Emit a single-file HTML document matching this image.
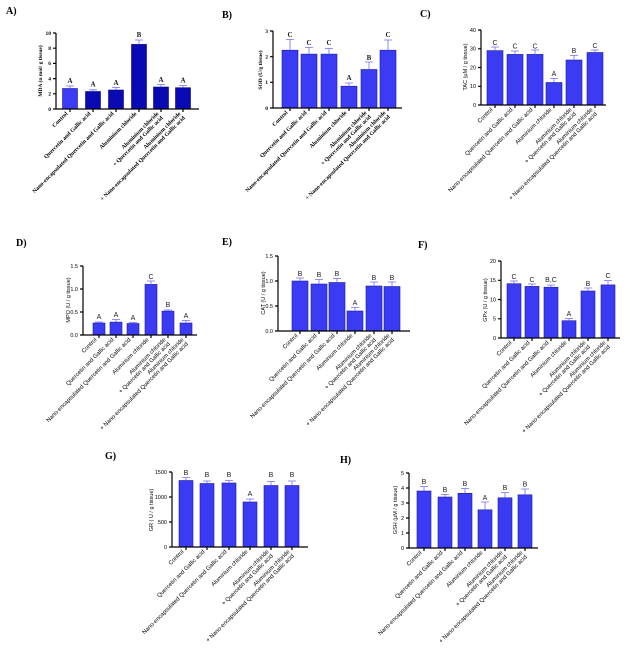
<!DOCTYPE html>
<html><head><meta charset="utf-8"><style>
html,body{margin:0;padding:0;background:#fff}
svg{display:block}
.s text{font-family:"Liberation Serif",serif;font-weight:bold}
.a text{font-family:"Liberation Sans",sans-serif}
.lab{font-size:5.8px}
.tk{font-size:5.5px}
.let{font-size:7px;fill:#222}
.pl{font-family:"Liberation Serif",serif;font-weight:bold;font-size:10px}
.bar{fill:#3b3bf4;stroke:#1c1c9a;stroke-width:0.6}
.dk{fill:#0a0ab4;stroke:#06067a;stroke-width:0.6}
.ax{stroke:#000;stroke-width:1.2;fill:none}
.eb{stroke:#6e6ef5;stroke-width:0.8;fill:none}
</style></head><body>
<svg width="641" height="661" viewBox="0 0 641 661" xmlns="http://www.w3.org/2000/svg">
<text class="pl" x="6" y="14">A)</text>
<text class="pl" x="222" y="18">B)</text>
<text class="pl" x="420" y="17">C)</text>
<text class="pl" x="16" y="246">D)</text>
<text class="pl" x="222" y="245">E)</text>
<text class="pl" x="418" y="248">F)</text>
<text class="pl" x="105" y="459">G)</text>
<text class="pl" x="340" y="463">H)</text>

<!-- A -->
<g class="s">
<rect class="bar" x="62.5" y="88.5" width="15" height="20.5"/>
<rect class="dk" x="85.5" y="91.5" width="15" height="17.5"/>
<rect class="dk" x="108.5" y="90" width="15" height="19"/>
<rect class="dk" x="131.5" y="44.4" width="15" height="64.6"/>
<rect class="dk" x="153.5" y="87" width="15" height="22"/>
<rect class="dk" x="175.5" y="87.7" width="15" height="21.3"/>
<path class="eb" d="M70 88.5V86h-4h8M93 91.5V89.8h-4h8M116 90V87.5h-4h8M139 44.4V40h-4h8M161 87V84.5h-4h8M183 87.7V85.5h-4h8"/>
<path class="ax" d="M56 33V109H199M53 33h3M53 48.2h3M53 63.4h3M53 78.6h3M53 93.8h3M53 109h3M70 109v3M93 109v3M116 109v3M139 109v3M161 109v3M183 109v3"/>
<g class="tk" text-anchor="end"><text x="51" y="35">10</text><text x="51" y="50">8</text><text x="51" y="65">6</text><text x="51" y="80.5">4</text><text x="51" y="95.5">2</text><text x="51" y="111">0</text></g>
<text class="tk" transform="translate(42,71) rotate(-90)" text-anchor="middle">MDA (n mol/ g tissue)</text>
<g class="let" text-anchor="middle" style="font-weight:normal"><text x="70" y="83">A</text><text x="93" y="86.5">A</text><text x="116" y="85">A</text><text x="139" y="37">B</text><text x="161" y="82">A</text><text x="183" y="82.5">A</text></g>
<g class="lab" text-anchor="end">
<text transform="translate(68,114) rotate(-45)">Control</text>
<text transform="translate(91,114) rotate(-45)">Quercetin and Gallic acid</text>
<text transform="translate(114,114) rotate(-45)">Nano-encapsulated Quercetin and Gallic acid</text>
<text transform="translate(137,114) rotate(-45)">Aluminium chloride</text>
<text transform="translate(159,114) rotate(-45)"><tspan x="0" y="0">Aluminium chloride</tspan><tspan x="0" y="6">+ Quercetin and Gallic acid</tspan></text>
<text transform="translate(181,114) rotate(-45)"><tspan x="0" y="0">Aluminium chloride</tspan><tspan x="0" y="6">+ Nano-encapsulated Quercetin and Gallic acid</tspan></text>
</g>
</g>

<!-- B -->
<g class="s">
<rect class="bar" x="282" y="50.2" width="16" height="57.8"/>
<rect class="bar" x="301" y="54.1" width="16" height="53.9"/>
<rect class="bar" x="321" y="54.1" width="16" height="53.9"/>
<rect class="bar" x="341" y="86.2" width="16" height="21.8"/>
<rect class="bar" x="361" y="69.5" width="16" height="38.5"/>
<rect class="bar" x="380" y="50.2" width="16" height="57.8"/>
<path class="eb" d="M290 50.2V39.5h-4h8M309 54.1V47.5h-4h8M329 54.1V48.5h-4h8M349 86.2V83h-4h8M369 69.5V62h-4h8M388 50.2V40h-4h8"/>
<path class="ax" d="M273 31V108H402M270 31h3M270 56.7h3M270 82.3h3M270 108h3M290 108v3M309 108v3M329 108v3M349 108v3M369 108v3M388 108v3"/>
<g class="tk" text-anchor="end"><text x="268" y="33">3</text><text x="268" y="58.5">2</text><text x="268" y="84">1</text><text x="268" y="110">0</text></g>
<text class="tk" transform="translate(262,70) rotate(-90)" text-anchor="middle">SOD (U/g tissue)</text>
<g class="let" text-anchor="middle" style="font-weight:normal"><text x="290" y="37">C</text><text x="309" y="45">C</text><text x="329" y="45">C</text><text x="349" y="80">A</text><text x="369" y="60">B</text><text x="388" y="37">C</text></g>
<g class="lab" text-anchor="end">
<text transform="translate(288,113) rotate(-45)">Control</text>
<text transform="translate(307,113) rotate(-45)">Quercetin and Gallic acid</text>
<text transform="translate(327,113) rotate(-45)">Nano-encapsulated Quercetin and Gallic acid</text>
<text transform="translate(347,113) rotate(-45)">Aluminium chloride</text>
<text transform="translate(367,113) rotate(-45)"><tspan x="0" y="0">Aluminium chloride</tspan><tspan x="0" y="6">+ Quercetin and Gallic acid</tspan></text>
<text transform="translate(386,113) rotate(-45)"><tspan x="0" y="0">Aluminium chloride</tspan><tspan x="0" y="6">+ Nano-encapsulated Quercetin and Gallic acid</tspan></text>
</g>
</g>

<!-- C -->
<g class="a">
<rect class="bar" x="487" y="50.6" width="16" height="54.4"/>
<rect class="bar" x="507" y="54.4" width="16" height="50.6"/>
<rect class="bar" x="527" y="54.4" width="16" height="50.6"/>
<rect class="bar" x="546" y="82.5" width="16" height="22.5"/>
<rect class="bar" x="566" y="60" width="16" height="45"/>
<rect class="bar" x="587" y="52.5" width="16" height="52.5"/>
<path class="eb" d="M495 50.6V47h-4h8M515 54.4V51h-4h8M535 54.4V50h-4h8M554 82.5V78.5h-4h8M574 60V55.5h-4h8M595 52.5V50h-4h8"/>
<path class="ax" d="M481 30V105H606M478 30h3M478 48.8h3M478 67.5h3M478 86.3h3M478 105h3M495 105v3M515 105v3M535 105v3M554 105v3M574 105v3M595 105v3"/>
<g class="tk" text-anchor="end"><text x="476" y="32">40</text><text x="476" y="50.5">30</text><text x="476" y="69.5">20</text><text x="476" y="88">10</text><text x="476" y="107">0</text></g>
<text class="tk" transform="translate(467,67) rotate(-90)" text-anchor="middle">TAC (μM / g tissue)</text>
<g class="let" text-anchor="middle"><text x="495" y="45">C</text><text x="515" y="48.5">C</text><text x="535" y="48.5">C</text><text x="554" y="76">A</text><text x="574" y="53">B</text><text x="595" y="48">C</text></g>
<g class="lab" text-anchor="end">
<text transform="translate(493,110) rotate(-45)">Control</text>
<text transform="translate(513,110) rotate(-45)">Quercetin and Gallic acid</text>
<text transform="translate(533,110) rotate(-45)">Nano-encapsulated Quercetin and Gallic acid</text>
<text transform="translate(552,110) rotate(-45)">Aluminium chloride</text>
<text transform="translate(572,110) rotate(-45)"><tspan x="0" y="0">Aluminium chloride</tspan><tspan x="0" y="6">+ Quercetin and Gallic acid</tspan></text>
<text transform="translate(593,110) rotate(-45)"><tspan x="0" y="0">Aluminium chloride</tspan><tspan x="0" y="6">+ Nano-encapsulated Quercetin and Gallic acid</tspan></text>
</g>
</g>

<!-- D -->
<g class="a">
<rect class="bar" x="93" y="323" width="12" height="12"/>
<rect class="bar" x="110" y="322.1" width="12" height="12.9"/>
<rect class="bar" x="127" y="323.5" width="12" height="11.5"/>
<rect class="bar" x="145" y="284.4" width="12" height="50.6"/>
<rect class="bar" x="162" y="311.1" width="12" height="23.9"/>
<rect class="bar" x="180" y="323" width="12" height="12"/>
<path class="eb" d="M99 323V322h-4h8M116 322.1V319.5h-4h8M133 323.5V322.5h-4h8M151 284.4V281h-4h8M168 311.1V310h-4h8M186 323V320.5h-4h8"/>
<path class="ax" d="M83 266V335H197M80 266h3M80 289h3M80 312h3M80 335h3M99 335v3M116 335v3M133 335v3M151 335v3M168 335v3M186 335v3"/>
<g class="tk" text-anchor="end"><text x="78" y="268">1.5</text><text x="78" y="291">1.0</text><text x="78" y="314">0.5</text><text x="78" y="337">0.0</text></g>
<text class="tk" transform="translate(70,300) rotate(-90)" text-anchor="middle">MPO (U / g tissue)</text>
<g class="let" text-anchor="middle"><text x="99" y="319">A</text><text x="116" y="317">A</text><text x="133" y="320">A</text><text x="151" y="279">C</text><text x="168" y="307">B</text><text x="186" y="318">A</text></g>
<g class="lab" text-anchor="end">
<text transform="translate(97,340) rotate(-45)">Control</text>
<text transform="translate(114,340) rotate(-45)">Quercetin and Gallic acid</text>
<text transform="translate(131,340) rotate(-45)">Nano-encapsulated Quercetin and Gallic acid</text>
<text transform="translate(149,340) rotate(-45)">Aluminium chloride</text>
<text transform="translate(166,340) rotate(-45)"><tspan x="0" y="0">Aluminium chloride</tspan><tspan x="0" y="6">+ Quercetin and Gallic acid</tspan></text>
<text transform="translate(184,340) rotate(-45)"><tspan x="0" y="0">Aluminium chloride</tspan><tspan x="0" y="6">+ Nano-encapsulated Quercetin and Gallic acid</tspan></text>
</g>
</g>

<!-- E -->
<g class="a">
<rect class="bar" x="292" y="281" width="16" height="50"/>
<rect class="bar" x="311" y="284" width="16" height="47"/>
<rect class="bar" x="329" y="282.5" width="16" height="48.5"/>
<rect class="bar" x="347" y="311" width="16" height="20"/>
<rect class="bar" x="366" y="286" width="16" height="45"/>
<rect class="bar" x="384" y="286.5" width="16" height="44.5"/>
<path class="eb" d="M300 281V278h-4h8M319 284V279.5h-4h8M337 282.5V278.5h-4h8M355 311V307.5h-4h8M374 286V282h-4h8M392 286.5V282h-4h8"/>
<path class="ax" d="M278 256V331H410M275 256h3M275 281h3M275 306h3M275 331h3M300 331v3M319 331v3M337 331v3M355 331v3M374 331v3M392 331v3"/>
<g class="tk" text-anchor="end"><text x="273" y="258">1.5</text><text x="273" y="283">1.0</text><text x="273" y="308">0.5</text><text x="273" y="333">0.0</text></g>
<text class="tk" transform="translate(265,293) rotate(-90)" text-anchor="middle">CAT (U / g tissue)</text>
<g class="let" text-anchor="middle"><text x="300" y="276">B</text><text x="319" y="277">B</text><text x="337" y="276">B</text><text x="355" y="305">A</text><text x="374" y="280">B</text><text x="392" y="280">B</text></g>
<g class="lab" text-anchor="end">
<text transform="translate(298,336) rotate(-45)">Control</text>
<text transform="translate(317,336) rotate(-45)">Quercetin and Gallic acid</text>
<text transform="translate(335,336) rotate(-45)">Nano-encapsulated Quercetin and Gallic acid</text>
<text transform="translate(353,336) rotate(-45)">Aluminium chloride</text>
<text transform="translate(372,336) rotate(-45)"><tspan x="0" y="0">Aluminium chloride</tspan><tspan x="0" y="6">+ Quercetin and Gallic acid</tspan></text>
<text transform="translate(390,336) rotate(-45)"><tspan x="0" y="0">Aluminium chloride</tspan><tspan x="0" y="6">+ Nano-encapsulated Quercetin and Gallic acid</tspan></text>
</g>
</g>

<!-- F -->
<g class="a">
<rect class="bar" x="507" y="283.7" width="14" height="54.3"/>
<rect class="bar" x="525" y="286.4" width="14" height="51.6"/>
<rect class="bar" x="544" y="287.2" width="14" height="50.8"/>
<rect class="bar" x="562" y="320.7" width="14" height="17.3"/>
<rect class="bar" x="581" y="291" width="14" height="47"/>
<rect class="bar" x="601" y="284.9" width="14" height="53.1"/>
<path class="eb" d="M514 283.7V281h-4h8M532 286.4V284h-4h8M551 287.2V285h-4h8M569 320.7V318.5h-4h8M588 291V288h-4h8M608 284.9V280.5h-4h8"/>
<path class="ax" d="M501 261V338H620M498 261h3M498 280.3h3M498 299.5h3M498 318.8h3M498 338h3M514 338v3M532 338v3M551 338v3M569 338v3M588 338v3M608 338v3"/>
<g class="tk" text-anchor="end"><text x="496" y="263">20</text><text x="496" y="282">15</text><text x="496" y="301.5">10</text><text x="496" y="320.5">5</text><text x="496" y="340">0</text></g>
<text class="tk" transform="translate(487,300) rotate(-90)" text-anchor="middle">GPx (U / g tissue)</text>
<g class="let" text-anchor="middle"><text x="514" y="279">C</text><text x="532" y="282">C</text><text x="551" y="282">B,C</text><text x="569" y="316">A</text><text x="588" y="286">B</text><text x="608" y="278">C</text></g>
<g class="lab" text-anchor="end">
<text transform="translate(512,343) rotate(-45)">Control</text>
<text transform="translate(530,343) rotate(-45)">Quercetin and Gallic acid</text>
<text transform="translate(549,343) rotate(-45)">Nano-encapsulated Quercetin and Gallic acid</text>
<text transform="translate(567,343) rotate(-45)">Aluminium chloride</text>
<text transform="translate(586,343) rotate(-45)"><tspan x="0" y="0">Aluminium chloride</tspan><tspan x="0" y="6">+ Quercetin and Gallic acid</tspan></text>
<text transform="translate(606,343) rotate(-45)"><tspan x="0" y="0">Aluminium chloride</tspan><tspan x="0" y="6">+ Nano-encapsulated Quercetin and Gallic acid</tspan></text>
</g>
</g>

<!-- G -->
<g class="a">
<rect class="bar" x="179" y="480.5" width="14" height="66.5"/>
<rect class="bar" x="200" y="483.5" width="14" height="63.5"/>
<rect class="bar" x="222" y="483" width="14" height="64"/>
<rect class="bar" x="243" y="502" width="14" height="45"/>
<rect class="bar" x="264" y="485.5" width="14" height="61.5"/>
<rect class="bar" x="285" y="485.5" width="14" height="61.5"/>
<path class="eb" d="M186 480.5V477.5h-4h8M207 483.5V481h-4h8M229 483V480.5h-4h8M250 502V499h-4h8M271 485.5V481.5h-4h8M292 485.5V481h-4h8"/>
<path class="ax" d="M172 472V547H308M169 472h3M169 497h3M169 522h3M169 547h3M186 547v3M207 547v3M229 547v3M250 547v3M271 547v3M292 547v3"/>
<g class="tk" text-anchor="end"><text x="167" y="474">1500</text><text x="167" y="499">1000</text><text x="167" y="524">500</text><text x="167" y="549">0</text></g>
<text class="tk" transform="translate(153,510) rotate(-90)" text-anchor="middle">GR ( U / g tissue)</text>
<g class="let" text-anchor="middle"><text x="186" y="475">B</text><text x="207" y="477">B</text><text x="229" y="477">B</text><text x="250" y="496">A</text><text x="271" y="477">B</text><text x="292" y="477">B</text></g>
<g class="lab" text-anchor="end">
<text transform="translate(184,552) rotate(-45)">Control</text>
<text transform="translate(205,552) rotate(-45)">Quercetin and Gallic acid</text>
<text transform="translate(227,552) rotate(-45)">Nano-encapsulated Quercetin and Gallic acid</text>
<text transform="translate(248,552) rotate(-45)">Aluminium chloride</text>
<text transform="translate(269,552) rotate(-45)"><tspan x="0" y="0">Aluminium chloride</tspan><tspan x="0" y="6">+ Quercetin and Gallic acid</tspan></text>
<text transform="translate(290,552) rotate(-45)"><tspan x="0" y="0">Aluminium chloride</tspan><tspan x="0" y="6">+ Nano-encapsulated Quercetin and Gallic acid</tspan></text>
</g>
</g>

<!-- H -->
<g class="a">
<rect class="bar" x="417" y="491" width="14" height="57"/>
<rect class="bar" x="438" y="497" width="14" height="51"/>
<rect class="bar" x="458" y="493.3" width="14" height="54.7"/>
<rect class="bar" x="478" y="509.8" width="14" height="38.2"/>
<rect class="bar" x="498" y="497.8" width="14" height="50.2"/>
<rect class="bar" x="518" y="494.8" width="14" height="53.2"/>
<path class="eb" d="M424 491V486.5h-4h8M445 497V494.5h-4h8M465 493.3V488.5h-4h8M485 509.8V502h-4h8M505 497.8V492.5h-4h8M525 494.8V489h-4h8"/>
<path class="ax" d="M409 473V548H538M406 473h3M406 488h3M406 503h3M406 518h3M406 533h3M406 548h3M424 548v3M445 548v3M465 548v3M485 548v3M505 548v3M525 548v3"/>
<g class="tk" text-anchor="end"><text x="404" y="475">5</text><text x="404" y="490">4</text><text x="404" y="505">3</text><text x="404" y="520">2</text><text x="404" y="535">1</text><text x="404" y="550">0</text></g>
<text class="tk" transform="translate(397,510) rotate(-90)" text-anchor="middle">GSH (μM / g tissue)</text>
<g class="let" text-anchor="middle"><text x="424" y="484">B</text><text x="445" y="492">B</text><text x="465" y="486">B</text><text x="485" y="500">A</text><text x="505" y="490">B</text><text x="525" y="486.5">B</text></g>
<g class="lab" text-anchor="end">
<text transform="translate(422,553) rotate(-45)">Control</text>
<text transform="translate(443,553) rotate(-45)">Quercetin and Gallic acid</text>
<text transform="translate(463,553) rotate(-45)">Nano-encapsulated Quercetin and Gallic acid</text>
<text transform="translate(483,553) rotate(-45)">Aluminium chloride</text>
<text transform="translate(503,553) rotate(-45)"><tspan x="0" y="0">Aluminium chloride</tspan><tspan x="0" y="6">+ Quercetin and Gallic acid</tspan></text>
<text transform="translate(523,553) rotate(-45)"><tspan x="0" y="0">Aluminium chloride</tspan><tspan x="0" y="6">+ Nano-encapsulated Quercetin and Gallic acid</tspan></text>
</g>
</g>
</svg>
</body></html>
